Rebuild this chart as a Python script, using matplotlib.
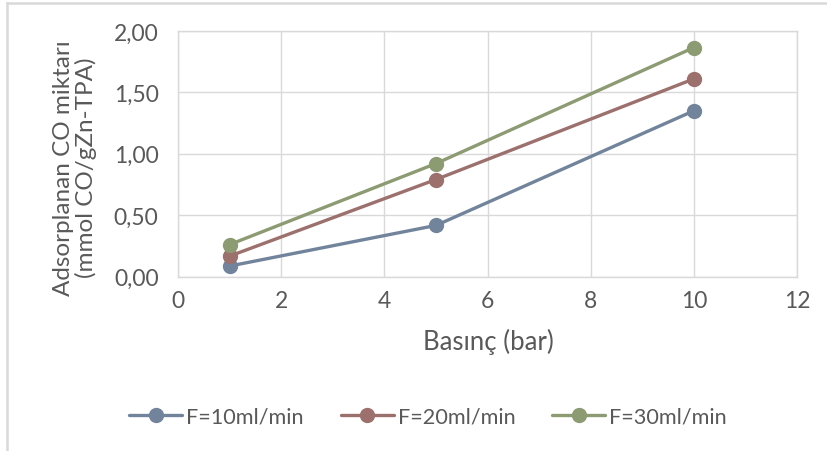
import matplotlib
matplotlib.use("Agg")
import matplotlib.pyplot as plt
from matplotlib.lines import Line2D
from matplotlib.ticker import FuncFormatter

pressure = [1, 5, 10]
f10 = [0.085, 0.416, 1.35]
f20 = [0.166, 0.79, 1.61]
f30 = [0.26, 0.92, 1.865]
series_labels = ["F=10ml/min", "F=20ml/min", "F=30ml/min"]
colors = ["#71849c", "#9c706d", "#8d9b72"]

plt.rcParams["font.family"] = ["Lato", "DejaVu Sans"]
text_color = "#595959"
W, H = 827, 452

fig = plt.figure(figsize=(W / 100, H / 100), dpi=100)
ax = fig.add_axes([178 / W, 1 - 277.5 / H, (797 - 178) / W, (277.5 - 32) / H])

for ys, lab, c in zip([f10, f20, f30], series_labels, colors):
    ax.plot(pressure, ys, color=c, lw=2.4, marker="o", ms=10, label=lab,
            solid_capstyle="round")

ax.set_xlim(0, 12)
ax.set_ylim(0, 2)
ax.set_xticks(range(0, 13, 2))
ax.set_yticks([0, 0.5, 1.0, 1.5, 2.0])
ax.yaxis.set_major_formatter(FuncFormatter(lambda v, p: f"{v:.2f}".replace(".", ",")))
ax.grid(True, color="#d9d9d9", lw=1)
ax.set_axisbelow(True)
for s in ax.spines.values():
    s.set_color("#d9d9d9")
    s.set_linewidth(1)
ax.tick_params(length=0, labelsize=16.5, colors=text_color)
ax.tick_params(axis="y", pad=14)
ax.tick_params(axis="x", pad=10)

fig.text(488 / W, 1 - 342 / H, "Basınç (bar)", fontsize=18.5, color=text_color,
         ha="center", va="center")
fig.text(75 / W, 1 - 168 / H, "Adsorplanan CO miktarı\n(mmol CO/gZn-TPA)",
         fontsize=17.5, color=text_color, rotation=90, ha="center", va="center",
         multialignment="center", linespacing=1.1)

leg = fig.legend(loc="center", bbox_to_anchor=(428 / W, 1 - 418 / H), ncol=3,
                 frameon=False, fontsize=15.6, handlelength=2.45,
                 columnspacing=1.7, handletextpad=0.18)
for t in leg.get_texts():
    t.set_color(text_color)

# outer chart frame (left and top edges)
fig.add_artist(Line2D([7 / W, 7 / W], [0, 1 - 4 / H], transform=fig.transFigure,
                      color="#d9d9d9", lw=1.8))
fig.add_artist(Line2D([7 / W, 1], [1 - 4 / H, 1 - 4 / H], transform=fig.transFigure,
                      color="#d9d9d9", lw=1.8))

fig.savefig("out.png", dpi=100)
